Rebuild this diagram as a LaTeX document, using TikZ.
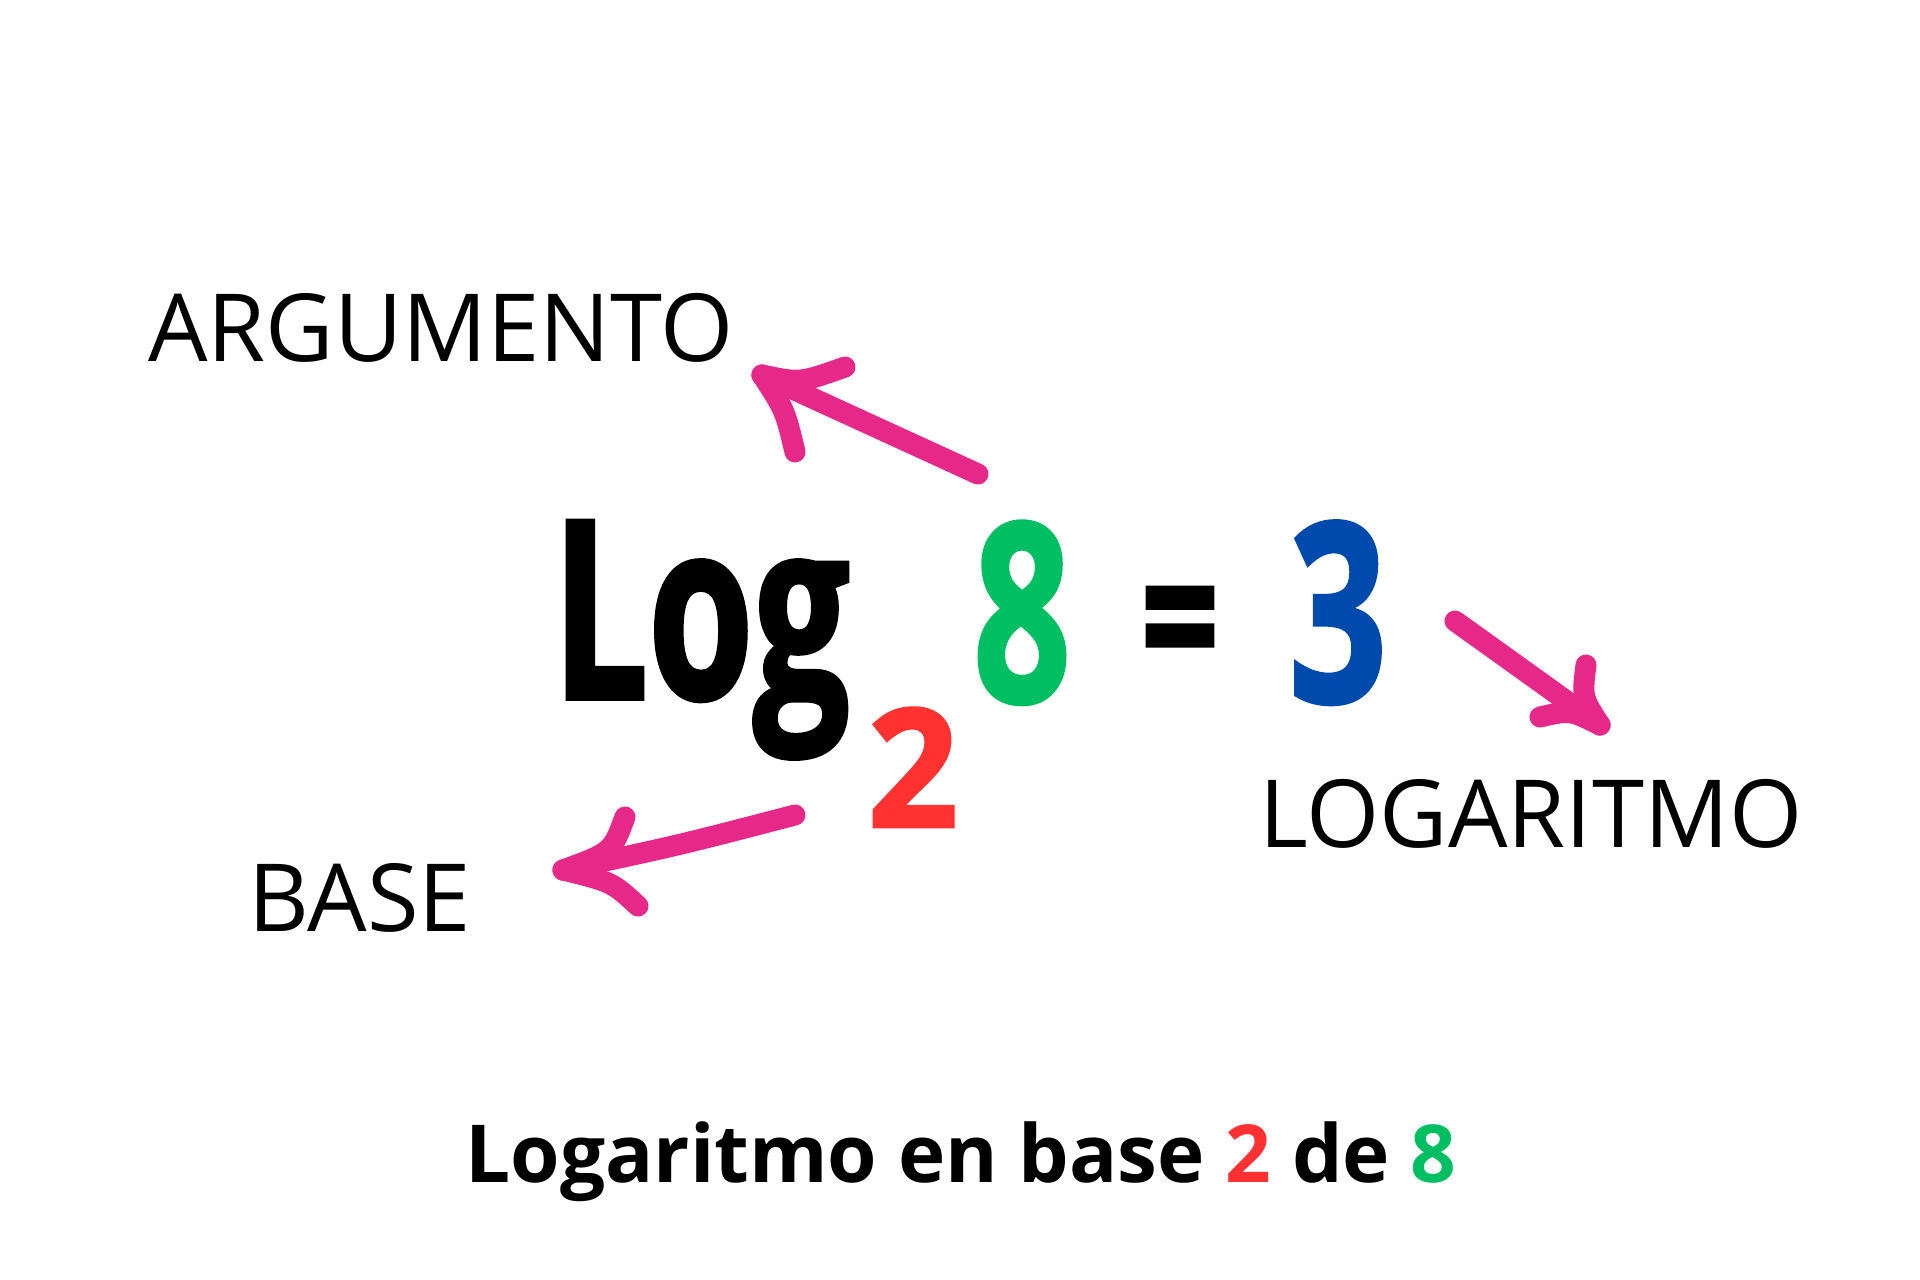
\documentclass[tikz,border=0pt]{standalone}
\usepackage{fontspec}
\setmainfont{Open Sans}
\newfontfamily\bigfont[FakeStretch=0.68,FakeBold=1.5]{Open Sans Bold}
\definecolor{pinkc}{RGB}{230,40,137}
\definecolor{greenc}{RGB}{0,191,99}
\definecolor{bluec}{RGB}{0,74,173}
\definecolor{redc}{RGB}{255,49,49}
\begin{document}
\begin{tikzpicture}[x=1pt,y=-1pt,
  lbl/.style={inner sep=0pt,font=\fontsize{94}{96}\selectfont},
  big/.style={inner sep=0pt,font=\bigfont\fontsize{250}{250}\selectfont},
  arr/.style={draw=pinkc,line width=21pt,line cap=round,line join=round}]
\fill[white] (0,0) rectangle (1920,1280);
\useasboundingbox (0,0) rectangle (1920,1280);

% labels
\node[lbl,anchor=base] (arg) at (441,361) {ARGUMENTO};
\node[lbl,anchor=base] (logl) at (1531,847) {LOGARITMO};
\node[lbl,anchor=base] (basel) at (360,931) {BASE};

% formula
\node[big,anchor=base west] (log) at (552,699) {Log};
\node[big,anchor=base,text=redc,font=\bigfont\fontsize{165}{165}\selectfont] (two) at (913,827) {\scalebox{1.4}[1]{2}};
\node[big,anchor=base,text=greenc] (eight) at (1022,702) {8};
\node[big,anchor=center,font=\bigfont\fontsize{200}{200}\selectfont] (eq) at (1180,637) {=};
\node[big,anchor=base,text=bluec] (three) at (1338,702) {3};

% caption
\node[inner sep=0pt,anchor=base,font=\bfseries\fontsize{80}{86}\selectfont] (cap) at (961,1182)
  {Logaritmo en base {\color{redc}2} de {\color{greenc}8}};

% arrow to ARGUMENTO
\coordinate (t1) at (978,474);
\coordinate (p1) at (762,375);
\draw[arr] (t1) -- (p1);
\draw[arr] (p1) .. controls (800,383) .. (845,367);
\draw[arr] (p1) .. controls (785,410) .. (795,452);

% arrow to LOGARITMO
\coordinate (t2) at (1455,621);
\coordinate (p2) at (1600,725);
\draw[arr] (t2) -- (p2);
\draw[arr] (p2) .. controls (1582,697) .. (1586,665);
\draw[arr] (p2) .. controls (1570,710) .. (1540,717);

% arrow to BASE
\coordinate (t3) at (795,815);
\coordinate (p3) at (563,870);
\draw[arr] (t3) .. controls (680,845) .. (p3);
\draw[arr] (p3) .. controls (612,852) .. (625,817);
\draw[arr] (p3) .. controls (612,882) .. (638,906);
\end{tikzpicture}
\end{document}
